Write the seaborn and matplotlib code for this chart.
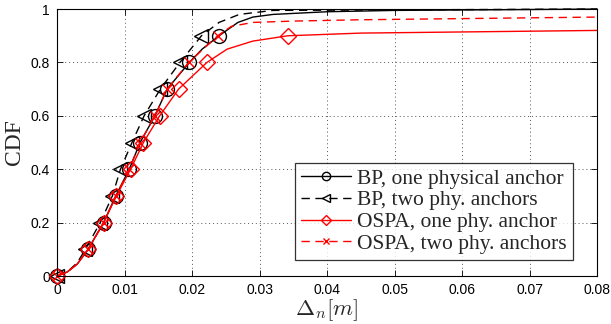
import numpy as np
import matplotlib
matplotlib.use("Agg")
import matplotlib.pyplot as plt
import seaborn as sns
from matplotlib.ticker import FuncFormatter

# CDF curves (x in metres)
bp_one_x = [0, 0.0015, 0.003, 0.0046, 0.0069, 0.0087, 0.0107, 0.0123, 0.0145, 0.0163, 0.0196, 0.0215, 0.0240, 0.0268, 0.029, 0.032, 0.040, 0.05, 0.08]
bp_one_y = [0, 0.015, 0.045, 0.1, 0.2, 0.3, 0.4, 0.5, 0.6, 0.7, 0.8, 0.85, 0.9, 0.95, 0.97, 0.98, 0.99, 0.995, 1.0]

bp_two_x = [0, 0.0015, 0.003, 0.0042, 0.0064, 0.0082, 0.0094, 0.0111, 0.0129, 0.0153, 0.0182, 0.0214, 0.0240, 0.0270, 0.032, 0.08]
bp_two_y = [0, 0.015, 0.05, 0.1, 0.2, 0.3, 0.4, 0.5, 0.6, 0.7, 0.8, 0.9, 0.95, 0.98, 0.995, 1.0]

ospa_one_x = [0, 0.0015, 0.003, 0.0046, 0.0069, 0.0088, 0.0109, 0.0128, 0.0152, 0.0180, 0.0222, 0.0252, 0.0290, 0.0342, 0.045, 0.08]
ospa_one_y = [0, 0.015, 0.045, 0.1, 0.2, 0.3, 0.4, 0.5, 0.6, 0.7, 0.8, 0.85, 0.88, 0.9, 0.91, 0.92]

ospa_two_x = [0, 0.0015, 0.003, 0.0046, 0.0069, 0.0087, 0.0107, 0.0123, 0.0145, 0.0163, 0.0195, 0.0238, 0.0258, 0.0290, 0.035, 0.045, 0.08]
ospa_two_y = [0, 0.015, 0.045, 0.1, 0.2, 0.3, 0.4, 0.5, 0.6, 0.7, 0.8, 0.9, 0.935, 0.95, 0.955, 0.96, 0.97]

labels = ["BP, one physical anchor", "BP, two phy. anchors",
          "OSPA, one phy. anchor", "OSPA, two phy. anchors"]
marker_levels = [0, 0.1, 0.2, 0.3, 0.4, 0.5, 0.6, 0.7, 0.8, 0.9]

sns.set_theme(style="ticks")
plt.rcParams["font.family"] = ["Liberation Sans", "DejaVu Sans"]
plt.rcParams["mathtext.fontset"] = "cm"

fig = plt.figure(figsize=(6.11, 3.24), dpi=100)
ax = fig.add_axes([0.0933, 0.148, 0.884, 0.824])

series = [
    (bp_one_x, bp_one_y, "black", "-", "o", 10),
    (bp_two_x, bp_two_y, "black", (0, (6, 4)), "<", 10),
    (ospa_one_x, ospa_one_y, "red", "-", "D", 8.5),
    (ospa_two_x, ospa_two_y, "red", (0, (6, 4)), "x", 7),
]

for (xs, ys, col, ls, mk, ms), lab in zip(series, labels):
    idx = [i for i, v in enumerate(ys) if any(abs(v - m) < 1e-9 for m in marker_levels)]
    sns.lineplot(x=xs, y=ys, ax=ax, sort=False, estimator=None, color=col,
                 linestyle=ls, linewidth=1.0, marker=mk, markevery=idx,
                 markersize=ms, markerfacecolor="none", markeredgecolor=col,
                 markeredgewidth=1.0, label=lab, clip_on=False)

ax.set_xlim(0, 0.08)
ax.set_ylim(0, 1)
ax.set_xticks(np.arange(0, 0.081, 0.01))
ax.set_yticks(np.arange(0, 1.01, 0.2))
fmt = FuncFormatter(lambda v, p: f"{v:.2f}".rstrip("0").rstrip(".") if v != 0 else "0")
ax.xaxis.set_major_formatter(fmt)
ax.yaxis.set_major_formatter(FuncFormatter(lambda v, p: f"{v:g}"))
ax.tick_params(direction="in", top=True, right=True, labelsize=10, length=4,
               width=0.6, colors="black", pad=5)
ax.grid(True, linestyle=(0, (1, 3)), color="#555555", linewidth=0.7)
for s in ax.spines.values():
    s.set_color("black")
    s.set_linewidth(0.8)

ax.set_ylabel("CDF", family=["Liberation Serif"], fontsize=17, labelpad=4)
ax.set_xlabel(r"$\Delta_n[m]$", fontsize=16.5, labelpad=0)

leg = ax.legend(loc="lower right", bbox_to_anchor=(0.955, 0.06),
                prop={"family": "Liberation Serif", "size": 15.5},
                frameon=True, fancybox=False, edgecolor="black",
                markerscale=0.6, handlelength=2.3, borderpad=0.28,
                labelspacing=0.08, handletextpad=0.3, borderaxespad=0.0)
leg.get_frame().set_linewidth(0.9)

fig.savefig("out.png", dpi=100)
